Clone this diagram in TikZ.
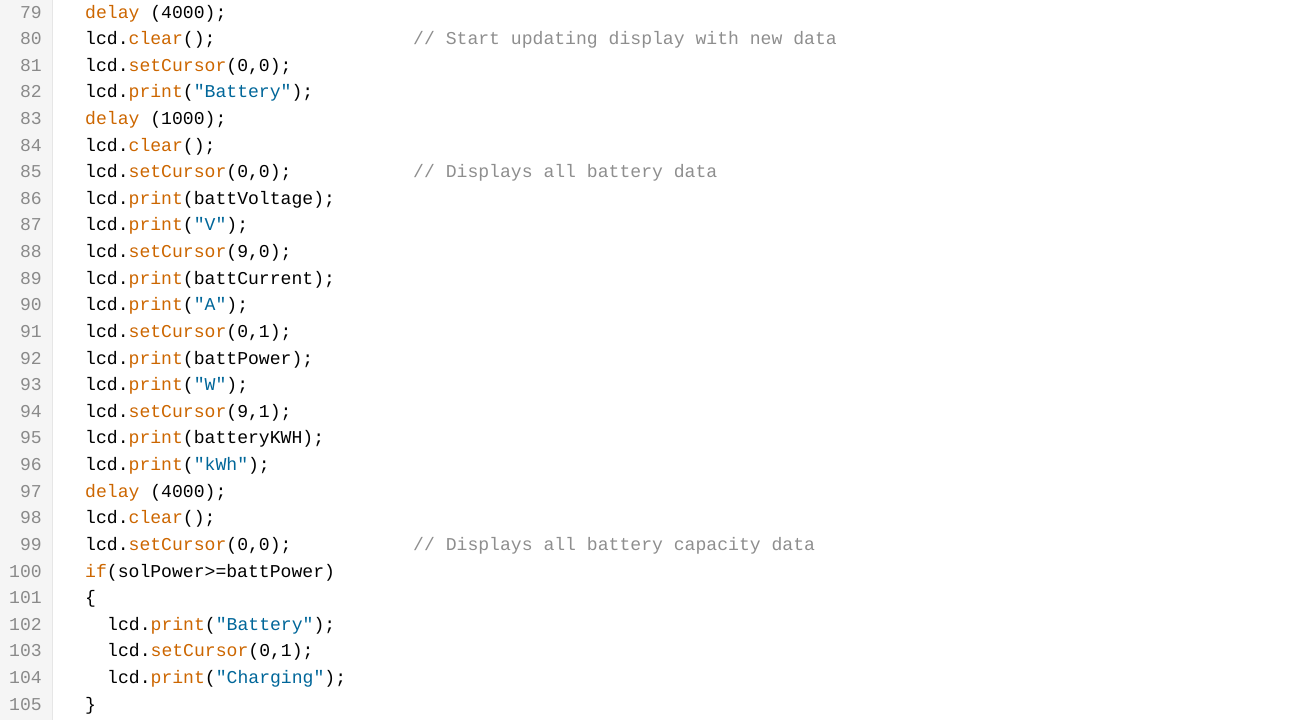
\documentclass[tikz,border=0pt]{standalone}
\usepackage{fontspec}
\setmonofont{Liberation Mono}
\definecolor{kwcol}{HTML}{CC6600}
\definecolor{strcol}{HTML}{006699}
\definecolor{cmtcol}{HTML}{8E8E8E}
\definecolor{numcol}{HTML}{8A8A8A}
\definecolor{guttercol}{HTML}{F5F5F5}
\definecolor{gutterline}{HTML}{E6E6E6}
\newcommand{\kwd}[1]{\textcolor{kwcol}{#1}}
\newcommand{\strg}[1]{\textcolor{strcol}{#1}}

\begin{document}
\begin{tikzpicture}[x=1pt, y=-26.62pt,
    code/.style = {anchor=base west, inner sep=0pt, font=\ttfamily\fontsize{18.1pt}{20pt}\selectfont},
    cmt/.style = {code, text=cmtcol},
    lnum/.style = {anchor=base east, inner sep=0pt, text=numcol, font=\ttfamily\fontsize{18.1pt}{20pt}\selectfont}]
    \useasboundingbox (0pt,0pt) rectangle (1294pt,-720pt);
    \fill[guttercol] (0pt,0pt) rectangle (52pt,-720pt);
    \draw[gutterline] (52pt,0pt) -- (52pt,-720pt);
    \begin{scope}[yshift=-18pt]
        % line numbers
        \foreach \n [count=\k from 0] in {79,...,105}
            \node[lnum] (n\n) at (42,\k) {\n};

        % code
        \node[code] (c79)  at (85, 0) {\kwd{delay} (4000);};
        \node[code] (c80)  at (85, 1) {lcd.\kwd{clear}();};
        \node[code] (c81)  at (85, 2) {lcd.\kwd{setCursor}(0,0);};
        \node[code] (c82)  at (85, 3) {lcd.\kwd{print}(\strg{"Battery"});};
        \node[code] (c83)  at (85, 4) {\kwd{delay} (1000);};
        \node[code] (c84)  at (85, 5) {lcd.\kwd{clear}();};
        \node[code] (c85)  at (85, 6) {lcd.\kwd{setCursor}(0,0);};
        \node[code] (c86)  at (85, 7) {lcd.\kwd{print}(battVoltage);};
        \node[code] (c87)  at (85, 8) {lcd.\kwd{print}(\strg{"V"});};
        \node[code] (c88)  at (85, 9) {lcd.\kwd{setCursor}(9,0);};
        \node[code] (c89)  at (85,10) {lcd.\kwd{print}(battCurrent);};
        \node[code] (c90)  at (85,11) {lcd.\kwd{print}(\strg{"A"});};
        \node[code] (c91)  at (85,12) {lcd.\kwd{setCursor}(0,1);};
        \node[code] (c92)  at (85,13) {lcd.\kwd{print}(battPower);};
        \node[code] (c93)  at (85,14) {lcd.\kwd{print}(\strg{"W"});};
        \node[code] (c94)  at (85,15) {lcd.\kwd{setCursor}(9,1);};
        \node[code] (c95)  at (85,16) {lcd.\kwd{print}(batteryKWH);};
        \node[code] (c96)  at (85,17) {lcd.\kwd{print}(\strg{"kWh"});};
        \node[code] (c97)  at (85,18) {\kwd{delay} (4000);};
        \node[code] (c98)  at (85,19) {lcd.\kwd{clear}();};
        \node[code] (c99)  at (85,20) {lcd.\kwd{setCursor}(0,0);};
        \node[code] (c100) at (85,21) {\kwd{if}(solPower>=battPower)};
        \node[code] (c101) at (85,22) {\{};
        \node[code] (c102) at (107,23) {lcd.\kwd{print}(\strg{"Battery"});};
        \node[code] (c103) at (107,24) {lcd.\kwd{setCursor}(0,1);};
        \node[code] (c104) at (107,25) {lcd.\kwd{print}(\strg{"Charging"});};
        \node[code] (c105) at (85,26) {\}};

        % comments
        \node[cmt] (m80) at (413, 1) {// Start updating display with new data};
        \node[cmt] (m85) at (413, 6) {// Displays all battery data};
        \node[cmt] (m99) at (413,20) {// Displays all battery capacity data};
    \end{scope}
\end{tikzpicture}
\end{document}
